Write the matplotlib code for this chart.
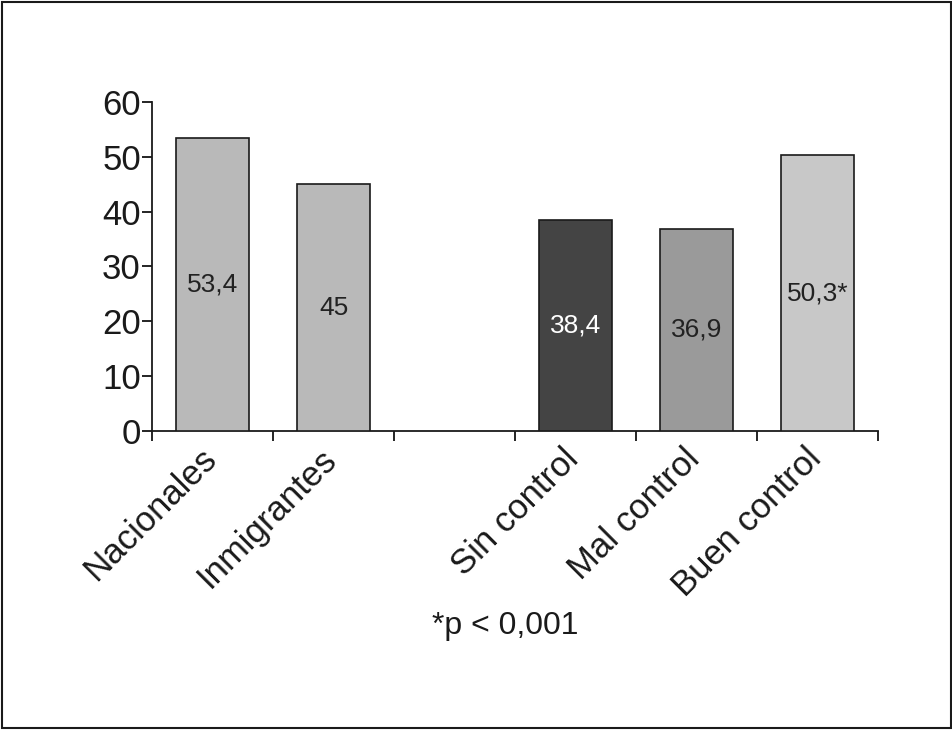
import matplotlib.pyplot as plt
from matplotlib.patches import Rectangle
import matplotlib.transforms as mtransforms

# Datos del gráfico
categorias = ['Nacionales', 'Inmigrantes', '', 'Sin control', 'Mal control', 'Buen control']
posiciones = [0, 1, 3, 4, 5]
valores = [53.4, 45, 38.4, 36.9, 50.3]
etiquetas = ['53,4', '45', '38,4', '36,9', '50,3*']
colores = ['#b9b9b9', '#b9b9b9', '#444444', '#9a9a9a', '#c8c8c8']
color_texto = ['#222222', '#222222', 'white', '#222222', '#222222']
nota = '*p < 0,001'

plt.rcParams['font.family'] = ['Liberation Sans', 'DejaVu Sans']

fig = plt.figure(figsize=(9.53, 7.3), dpi=100)
ax = fig.add_axes([0.1595, 0.4096, 0.7618, 0.4507])

barras = ax.bar(posiciones, valores, width=0.61, color=colores,
                edgecolor='#1a1a1a', linewidth=1.2, zorder=3)
textos = ax.bar_label(barras, labels=etiquetas, label_type='center', fontsize=19)
for t, c in zip(textos, color_texto):
    t.set_color(c)

ax.set_xlim(-0.5, 5.5)
ax.set_ylim(0, 60)
ax.set_yticks(range(0, 61, 10))
ax.set_xticks(range(len(categorias)))
ax.set_xticklabels(categorias, rotation=45, ha='right', va='top',
                   rotation_mode='default', fontsize=25, color='#1a1a1a')
ax.set_xticks([i - 0.5 for i in range(len(categorias) + 1)], minor=True)
ax.tick_params(axis='x', which='major', length=0, pad=8)
ax.tick_params(axis='x', which='minor', length=7, width=1.2, direction='out')
ax.tick_params(axis='y', length=7, width=1.2, labelsize=25, pad=1,
               labelcolor='#1a1a1a')

for s in ['top', 'right']:
    ax.spines[s].set_visible(False)
for s in ['left', 'bottom']:
    ax.spines[s].set_linewidth(1.3)
    ax.spines[s].set_color('#1a1a1a')

# desplazar etiquetas del eje x un poco a la derecha
desplazamiento = mtransforms.ScaledTranslation(0.1, 0, fig.dpi_scale_trans)
for lab in ax.get_xticklabels():
    lab.set_transform(lab.get_transform() + desplazamiento)

fig.text(0.53, 0.143, nota, ha='center', va='center', fontsize=23,
         family=['Liberation Sans Narrow', 'Liberation Sans'], color='#1a1a1a')

fig.add_artist(Rectangle((0.002, 0.003), 0.996, 0.994, transform=fig.transFigure,
                         fill=False, edgecolor='#1a1a1a', linewidth=1.5))

fig.savefig('out.png', dpi=100)
